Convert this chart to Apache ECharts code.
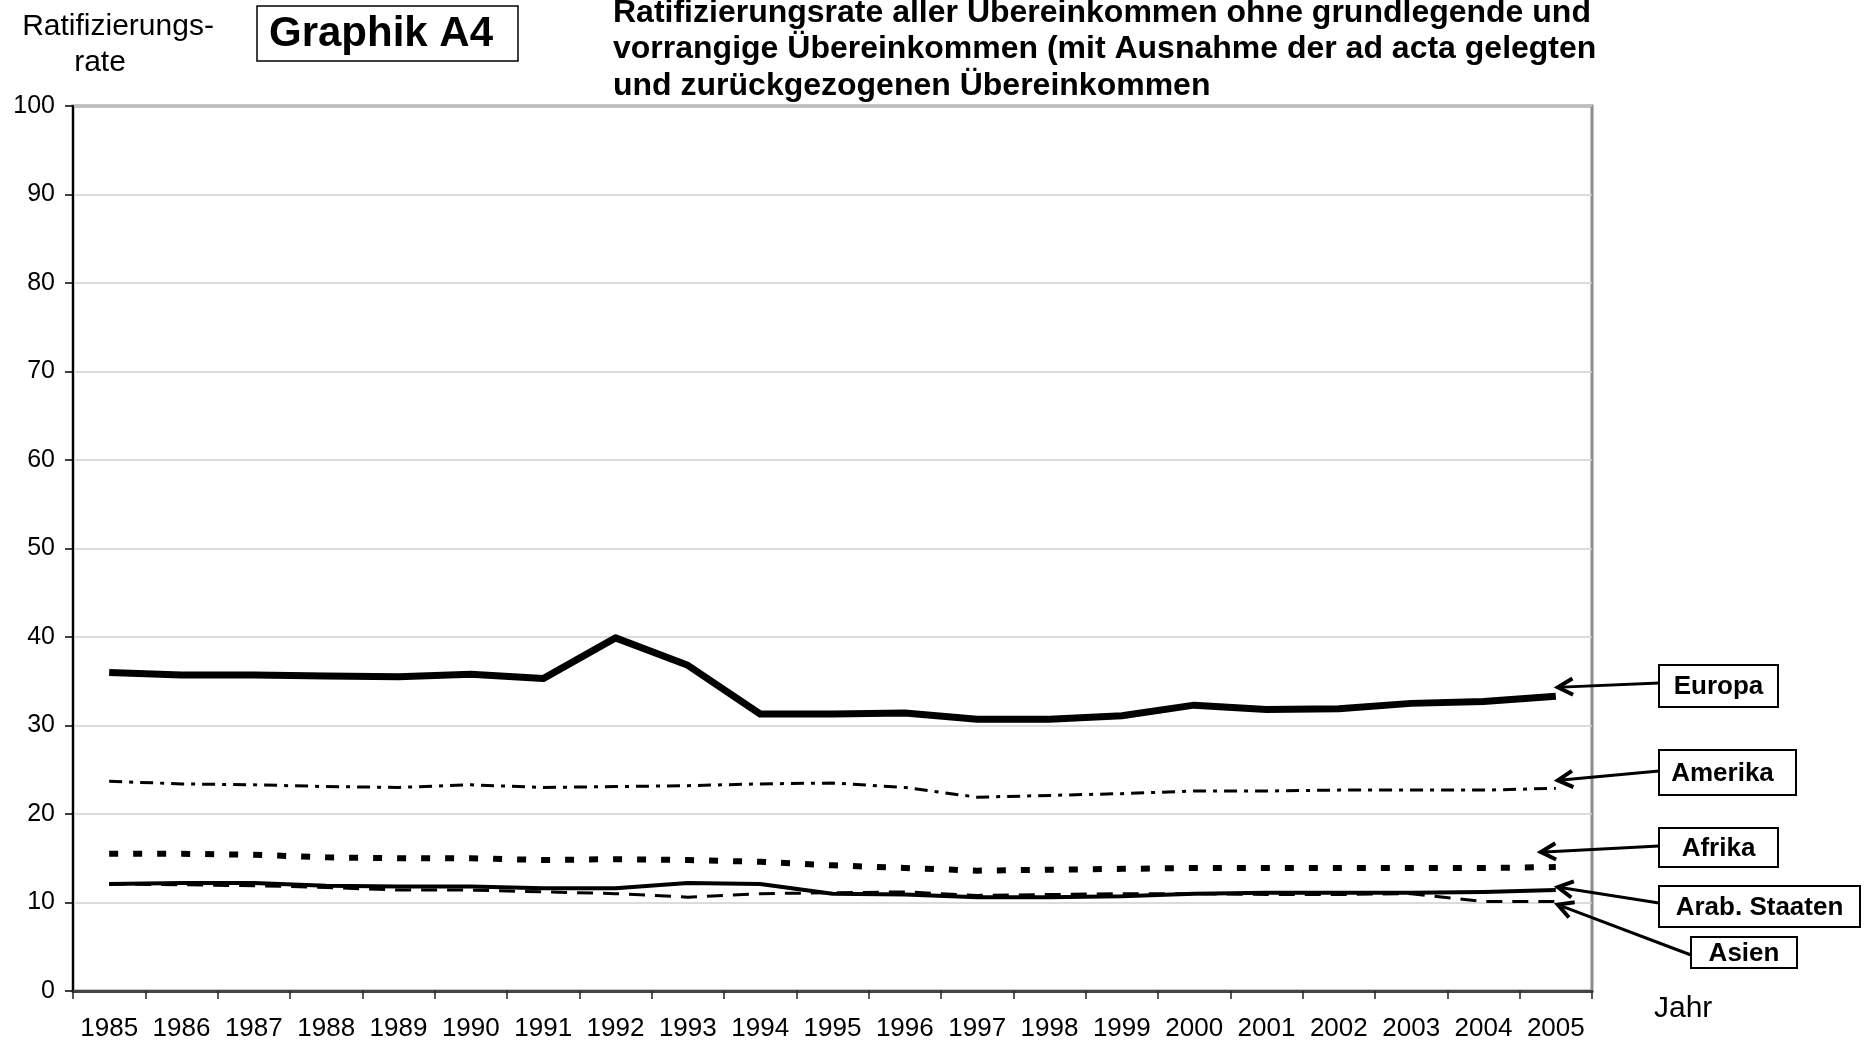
<!DOCTYPE html>
<html>
<head>
<meta charset="utf-8">
<script src="https://cdn.jsdelivr.net/npm/echarts@6/dist/echarts.min.js"></script>
<style>
  html, body { margin: 0; padding: 0; background: #fff; }
  #chart { width: 1866px; height: 1048px; }
</style>
</head>
<body>
<div id="chart"></div>
<script>
const years = ['1985', '1986', '1987', '1988', '1989', '1990', '1991', '1992', '1993', '1994', '1995',
  '1996', '1997', '1998', '1999', '2000', '2001', '2002', '2003', '2004', '2005']

const europa = [36.0, 35.7, 35.7, 35.6, 35.5, 35.8, 35.3, 39.9, 36.8, 31.3, 31.3,
  31.4, 30.7, 30.7, 31.1, 32.3, 31.8, 31.9, 32.5, 32.7, 33.3]
const amerika = [23.7, 23.4, 23.3, 23.1, 23.0, 23.3, 23.0, 23.1, 23.2, 23.4, 23.5,
  23.0, 21.9, 22.1, 22.3, 22.6, 22.6, 22.7, 22.7, 22.7, 22.9]
const afrika = [15.5, 15.5, 15.4, 15.1, 15.0, 15.0, 14.8, 14.9, 14.8, 14.6, 14.2,
  13.9, 13.6, 13.7, 13.8, 13.9, 13.9, 13.9, 13.9, 13.9, 14.0]
const arabStaaten = [12.1, 12.2, 12.2, 11.9, 11.8, 11.8, 11.6, 11.6, 12.2, 12.1, 11.0,
  10.9, 10.6, 10.6, 10.7, 11.0, 11.1, 11.1, 11.1, 11.2, 11.4]
const asien = [12.1, 12.0, 11.9, 11.7, 11.4, 11.4, 11.2, 11.0, 10.6, 11.0, 11.1,
  11.2, 10.8, 10.9, 11.0, 11.0, 10.9, 10.9, 11.0, 10.1, 10.1]

const yTicks = [0, 10, 20, 30, 40, 50, 60, 70, 80, 90, 100]

const titleLines = [
  'Ratifizierungsrate aller Übereinkommen ohne grundlegende und',
  'vorrangige Übereinkommen (mit Ausnahme der ad acta gelegten',
  'und zurückgezogenen Übereinkommen'
]

const font = '"Liberation Sans", Arial, sans-serif'

// callouts on the right: box + arrow to the end of each line
const callouts = [
  { name: 'Europa', data: europa, box: [1659, 665, 119, 42], from: [1659, 683], tip: [2, -9], dx: 0 },
  { name: 'Amerika', data: amerika, box: [1659, 750, 137, 45], from: [1659, 771], tip: [2, -8], dx: -5 },
  { name: 'Afrika', data: afrika, box: [1659, 828, 119, 39], from: [1659, 846], tip: [-15, -15], dx: 0 },
  { name: 'Arab. Staaten', data: arabStaaten, box: [1659, 886, 201, 41], from: [1659, 903], tip: [2, -3], dx: 0 },
  { name: 'Asien', data: asien, box: [1691, 937, 106, 31], from: [1691, 955], tip: [2, 3], dx: 0 }
]

function lineSeries(name, data, width, type) {
  return {
    name,
    type: 'line',
    data,
    symbol: 'none',
    smooth: false,
    lineStyle: { color: '#000', width, type, cap: 'butt', join: 'round' },
    emphasis: { disabled: true }
  }
}

const chart = echarts.init(document.getElementById('chart'))

chart.setOption({
  animation: false,
  grid: {
    left: 73,
    right: 274,
    top: 106,
    bottom: 57,
    show: true,
    borderColor: '#8c8c8c',
    borderWidth: 3
  },
  xAxis: {
    type: 'category',
    data: years,
    boundaryGap: true,
    axisLine: { lineStyle: { color: '#444', width: 3 } },
    axisTick: { show: true, length: 8, lineStyle: { color: '#222', width: 1.5 } },
    axisLabel: { color: '#000', fontFamily: font, fontSize: 26, margin: 25, interval: 0 },
    splitLine: { show: false }
  },
  yAxis: {
    type: 'value',
    min: 0,
    max: 100,
    interval: 10,
    axisLine: { show: true, lineStyle: { color: '#000', width: 2 } },
    axisTick: { show: true, length: 8, lineStyle: { color: '#000', width: 1.5 } },
    axisLabel: {
      color: '#000',
      fontFamily: font,
      fontSize: 25,
      margin: 18,
      formatter: (v) => (yTicks.includes(v) ? String(v) : '')
    },
    splitLine: { lineStyle: { color: '#cfcfcf', width: 1.5 } }
  },
  series: [
    lineSeries('Europa', europa, 7, 'solid'),
    lineSeries('Amerika', amerika, 3, [13, 7, 4, 7]),
    lineSeries('Afrika', afrika, 6, [9, 15]),
    lineSeries('Arab. Staaten', arabStaaten, 4, 'solid'),
    lineSeries('Asien', asien, 3, [16, 10])
  ]
})

function buildGraphics() {
  const els = []

  titleLines.forEach((t, i) => {
    els.push({
      type: 'text',
      x: 613,
      y: 13 + i * 36.5,
      style: { text: t, font: `bold 32px ${font}`, fill: '#000', textVerticalAlign: 'middle' }
    })
  })

  els.push({
    type: 'rect',
    shape: { x: 257, y: 6, width: 261, height: 55 },
    style: { fill: '#fff', stroke: '#000', lineWidth: 1.5 }
  })
  els.push({
    type: 'text',
    x: 381,
    y: 34,
    style: { text: 'Graphik A4', font: `bold 42px ${font}`, fill: '#000', textAlign: 'center', textVerticalAlign: 'middle' }
  })

  els.push({
    type: 'text',
    x: 118,
    y: 27,
    style: { text: 'Ratifizierungs-', font: `30px ${font}`, fill: '#000', textAlign: 'center', textVerticalAlign: 'middle' }
  })
  els.push({
    type: 'text',
    x: 100,
    y: 63,
    style: { text: 'rate', font: `30px ${font}`, fill: '#000', textAlign: 'center', textVerticalAlign: 'middle' }
  })
  els.push({
    type: 'text',
    x: 1654,
    y: 1009,
    style: { text: 'Jahr', font: `30px ${font}`, fill: '#000', textVerticalAlign: 'middle' }
  })

  callouts.forEach((c) => {
    const last = c.data.length - 1
    const p = chart.convertToPixel({ seriesIndex: 0 }, [last, c.data[last]])
    const tx = p[0] + c.tip[0]
    const ty = p[1] + c.tip[1]
    const [fx, fy] = c.from
    const ang = Math.atan2(fy - ty, fx - tx)
    const len = 17
    const spread = 0.5
    const w1 = [tx + len * Math.cos(ang - spread), ty + len * Math.sin(ang - spread)]
    const w2 = [tx + len * Math.cos(ang + spread), ty + len * Math.sin(ang + spread)]

    els.push({
      type: 'line',
      shape: { x1: fx, y1: fy, x2: tx + 4 * Math.cos(ang), y2: ty + 4 * Math.sin(ang) },
      style: { stroke: '#000', lineWidth: 3 }
    })
    els.push({
      type: 'polyline',
      shape: { points: [w1, [tx, ty], w2] },
      style: { stroke: '#000', lineWidth: 4, fill: null, lineJoin: 'miter' }
    })

    const [bx, by, bw, bh] = c.box
    els.push({
      type: 'rect',
      shape: { x: bx, y: by, width: bw, height: bh },
      style: { fill: '#fff', stroke: '#000', lineWidth: 2 }
    })
    els.push({
      type: 'text',
      x: bx + bw / 2 + c.dx,
      y: by + bh / 2 + 1,
      style: { text: c.name, font: `bold 26px ${font}`, fill: '#000', textAlign: 'center', textVerticalAlign: 'middle' }
    })
  })

  return els
}

chart.setOption({ graphic: buildGraphics() })
</script>
</body>
</html>
